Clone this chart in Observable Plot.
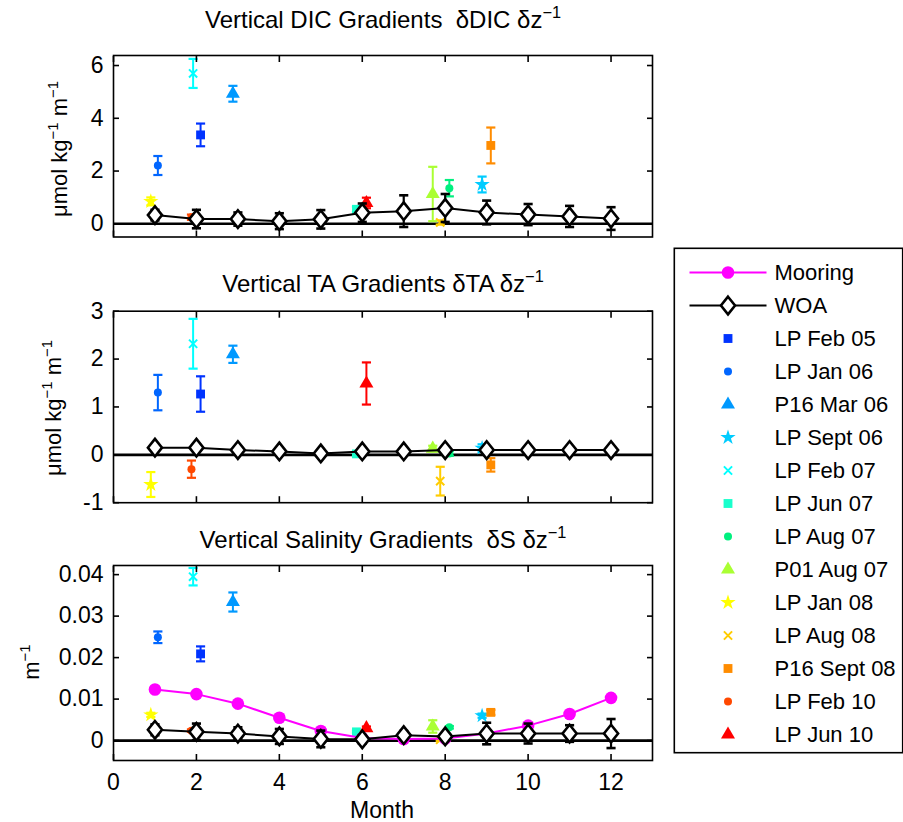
<!DOCTYPE html>
<html><head><meta charset="utf-8">
<script src="https://cdn.jsdelivr.net/npm/d3@7"></script>
<script src="https://cdn.jsdelivr.net/npm/@observablehq/plot@0.6"></script>
<style>
body{margin:0;background:#fff;}
#fig{position:relative;width:903px;height:822px;font-family:"Liberation Sans",Arial,Helvetica,sans-serif;color:#000;overflow:hidden;background:#fff}
.panel{position:absolute;left:0}
.title{position:absolute;font-size:24px;line-height:24px;white-space:nowrap;transform:translateX(-50%)}
.ylab{position:absolute;font-size:22px;line-height:22px;height:22px;width:240px;text-align:center;white-space:nowrap;transform-origin:0 0;transform:rotate(-90deg)}
.xlab{position:absolute;font-size:23px;line-height:23px;white-space:nowrap;transform:translate(-50%,-50%)}
sup{font-size:0.68em;line-height:0;vertical-align:0.62em}
</style></head>
<body><div id="fig"></div>
<script>
// ---------- data ----------
const months = [1,2,3,4,5,6,7,8,9,10,11,12];
const xTicks = [0,2,4,6,8,10,12];
const dicTicks = [0,2,4,6];
const taTicks = [-1,0,1,2,3];
const salTicks = [0,0.01,0.02,0.03,0.04];

const woaDIC    = [0.33,0.18,0.18,0.10,0.17,0.42,0.48,0.60,0.43,0.35,0.28,0.20];
const woaDICerr = [0.20,0.35,0.25,0.30,0.35,0.35,0.60,0.53,0.45,0.40,0.40,0.43];
const woaTA     = [0.15,0.15,0.10,0.07,0.03,0.07,0.07,0.10,0.10,0.10,0.10,0.10];
const woaTAerr  = [0.05,0.05,0.05,0.05,0.05,0.05,0.05,0.05,0.05,0.05,0.05,0.05];
const woaSal    = [0.0026,0.0021,0.0017,0.0010,0.0004,0.0003,0.0013,0.0010,0.0017,0.0017,0.0017,0.0017];
const woaSalerr = [0.0013,0.0020,0.0015,0.0018,0.0020,0.0010,0.0010,0.0008,0.0026,0.0024,0.0020,0.0035];
const mooringSal = [0.0123,0.0112,0.0089,0.0055,0.0023,0.0006,0.0004,0.0005,0.0017,0.0036,0.0064,0.0103];

const cruiseNames   = ["LP Feb 05","LP Jan 06","P16 Mar 06","LP Sept 06","LP Feb 07","LP Jun 07","LP Aug 07","P01 Aug 07","LP Jan 08","LP Aug 08","P16 Sept 08","LP Feb 10","LP Jun 10"];
const cruiseColors  = ["#0033ff","#0066ff","#0099ff","#00ccff","#00ffff","#19ffcc","#00f07f","#aaff33","#ffff00","#ffcc00","#ff8c00","#ff4800","#ff0000"];
const cruiseSymbols = ["square","circle","triangle","star","times","square","circle","triangle","star","times","square","circle","triangle"];
const cruiseMonth   = [2.10,1.07,2.88,8.89,1.92,5.86,8.10,7.70,0.90,7.88,9.10,1.88,6.10];
const cruiseDIC     = [3.37,2.21,4.93,1.49,5.70,0.55,1.35,1.13,0.85,0.05,2.97,0.25,0.79];
const cruiseDICerr  = [0.43,0.36,0.30,0.30,0.55,0.10,0.31,1.03,0.15,0.08,0.68,0.10,0.20];
const cruiseTA      = [1.27,1.30,2.10,0.14,2.32,0.02,0.03,0.13,-0.62,-0.55,-0.21,-0.30,1.49];
const cruiseTAerr   = [0.37,0.37,0.18,0.08,0.52,0.05,0.05,0.06,0.26,0.30,0.14,0.18,0.44];
const cruiseSal     = [0.0209,0.0249,0.0334,0.0060,0.0395,0.0021,0.0032,0.0034,0.0062,0.0002,0.0068,0.0024,0.0030];
const cruiseSalerr  = [0.0018,0.0014,0.0023,0.0005,0.0021,0.0003,0.0003,0.0015,0.0005,0.0003,0.0006,0.0003,0.0004];

// ---------- styling ----------
const FONT = '"Liberation Sans",Arial,Helvetica,sans-serif';
const symR = {square:5, circle:4, triangle:5.2, star:4.8, times:3.8};
const diamond = {draw(ctx, size){ const s = Math.sqrt(size/Math.PI); const h = s, w = s*0.8;
  ctx.moveTo(0,-h); ctx.lineTo(w,0); ctx.lineTo(0,h); ctx.lineTo(-w,0); ctx.closePath(); }};
const CAP = 0.11;

function dotMarks(rows, opt) {
  return rows.map(d => d.sym === "times"
    ? Plot.dot([d], {x: opt.x, y: opt.y, symbol: "times", stroke: d.color, strokeWidth: 2, r: symR.times})
    : Plot.dot([d], {x: opt.x, y: opt.y, symbol: d.sym, fill: d.color, stroke: "none", r: symR[d.sym]}));
}

function panel({top, height, mTop, mBottom, domain, ticks, woa, woaErr, vals, errs, mooring, xLabels}) {
  const cruise = cruiseNames.map((n,i) => ({name:n, color:cruiseColors[i], sym:cruiseSymbols[i], m:cruiseMonth[i], v:vals[i], e:errs[i]}));
  const w = months.map((m,i) => ({m, v:woa[i], e:woaErr[i]}));
  const marks = [
    Plot.ruleY([0], {stroke:"black", strokeWidth:2.6}),
    Plot.ruleX(cruise, {x:"m", y1:d=>d.v-d.e, y2:d=>d.v+d.e, stroke:"color", strokeWidth:2}),
    Plot.link(cruise, {x1:d=>d.m-CAP, x2:d=>d.m+CAP, y1:d=>d.v+d.e, y2:d=>d.v+d.e, stroke:"color", strokeWidth:2.2}),
    Plot.link(cruise, {x1:d=>d.m-CAP, x2:d=>d.m+CAP, y1:d=>d.v-d.e, y2:d=>d.v-d.e, stroke:"color", strokeWidth:2.2}),
    ...dotMarks(cruise, {x:"m", y:"v"})
  ];
  if (mooring) {
    const mo = months.map((m,i) => ({m, v:mooring[i]}));
    marks.push(Plot.line(mo, {x:"m", y:"v", stroke:"#ff00ff", strokeWidth:2}));
    marks.push(Plot.dot(mo, {x:"m", y:"v", fill:"#ff00ff", r:6.3}));
  }
  marks.push(
    Plot.ruleX(w, {x:"m", y1:d=>d.v-d.e, y2:d=>d.v+d.e, stroke:"black", strokeWidth:2.2}),
    Plot.link(w, {x1:d=>d.m-CAP, x2:d=>d.m+CAP, y1:d=>d.v+d.e, y2:d=>d.v+d.e, stroke:"black", strokeWidth:2.6}),
    Plot.link(w, {x1:d=>d.m-CAP, x2:d=>d.m+CAP, y1:d=>d.v-d.e, y2:d=>d.v-d.e, stroke:"black", strokeWidth:2.6}),
    Plot.line(w, {x:"m", y:"v", stroke:"black", strokeWidth:2}),
    Plot.dot(w, {x:"m", y:"v", symbol: diamond, r:8.8, fill:"white", stroke:"black", strokeWidth:2.6}),
    Plot.frame({stroke:"black", strokeWidth:1.6}),
    Plot.axisX(xTicks, {anchor:"bottom", tickSize:-6, tickPadding:19, strokeWidth:1.6, label:null, fontSize:23,
      tickFormat: xLabels ? (d => String(d)) : (() => "")}),
    Plot.axisX(xTicks, {anchor:"top", tickSize:-6, strokeWidth:1.6, label:null, tickFormat:() => ""}),
    Plot.axisY(ticks, {anchor:"left", tickSize:-6, tickPadding:16, strokeWidth:1.6, label:null, fontSize:23, tickFormat: d => String(d)}),
    Plot.axisY(ticks, {anchor:"right", tickSize:-6, strokeWidth:1.6, label:null, tickFormat:() => ""})
  );
  const svg = Plot.plot({
    width:660, height, marginLeft:113, marginRight:8, marginTop:mTop, marginBottom:mBottom,
    x:{domain:[0,13]}, y:{domain}, color:{type:"identity"},
    style:{fontFamily:FONT, color:"black", background:"transparent", overflow:"visible"},
    marks
  });
  svg.classList.add("panel");
  svg.style.top = top + "px";
  return svg;
}

const fig = document.getElementById("fig");
fig.append(panel({top:0, height:250, mTop:55, mBottom:13.5, domain:[-0.5,6.38], ticks:dicTicks,
  woa:woaDIC, woaErr:woaDICerr, vals:cruiseDIC, errs:cruiseDICerr}));
fig.append(panel({top:250, height:260, mTop:60.7, mBottom:7.8, domain:[-1,3], ticks:taTicks,
  woa:woaTA, woaErr:woaTAerr, vals:cruiseTA, errs:cruiseTAerr}));
fig.append(panel({top:510, height:312, mTop:55, mBottom:62, domain:[-0.0048,0.0422], ticks:salTicks,
  woa:woaSal, woaErr:woaSalerr, vals:cruiseSal, errs:cruiseSalerr, mooring:mooringSal, xLabels:true}));

// ---------- legend ----------
const legendNames = ["Mooring","WOA",...cruiseNames];
const lg = cruiseNames.map((n,i) => ({name:n, color:cruiseColors[i], sym:cruiseSymbols[i], m:0.5}));
const legend = Plot.plot({
  width:230, height:506, margin:0,
  x:{domain:[0,1], range:[16,93], axis:null},
  y:{type:"point", domain:legendNames, range:[22,490], padding:0, axis:null},
  color:{type:"identity"},
  style:{fontFamily:FONT, color:"black", background:"white", overflow:"visible"},
  marks:[
    Plot.link(["Mooring"], {x1:()=>0, x2:()=>1, y1:d=>d, y2:d=>d, stroke:"#ff00ff", strokeWidth:2}),
    Plot.dot(["Mooring"], {x:()=>0.5, y:d=>d, fill:"#ff00ff", r:6.3}),
    Plot.link(["WOA"], {x1:()=>0, x2:()=>1, y1:d=>d, y2:d=>d, stroke:"black", strokeWidth:2}),
    Plot.dot(["WOA"], {x:()=>0.5, y:d=>d, symbol:diamond, r:8.8, fill:"white", stroke:"black", strokeWidth:2.6}),
    ...dotMarks(lg, {x:"m", y:"name"}),
    Plot.text(legendNames, {x:()=>1.104, y:d=>d, text:d=>d, textAnchor:"start", fontSize:22}),
    Plot.frame({stroke:"black", strokeWidth:1.6, inset:0.8})
  ]
});
legend.style.position = "absolute"; legend.style.left = "673px"; legend.style.top = "247px";
fig.append(legend);

// ---------- text ----------
function addHTML(cls, html, x, y) {
  const d = document.createElement("div"); d.className = cls; d.innerHTML = html;
  d.style.left = x + "px"; d.style.top = y + "px"; fig.append(d); return d;
}
addHTML("title", "Vertical DIC Gradients&nbsp; δDIC δz<sup>−1</sup>", 383, 8);
addHTML("title", "Vertical TA Gradients δTA δz<sup>−1</sup>", 383, 272);
addHTML("title", "Vertical Salinity Gradients&nbsp; δS δz<sup>−1</sup>", 383, 528);
// rotated labels: box left edge = ascender side, box extends upward from top; centred vertically by +120
addHTML("ylab", "μmol kg<sup>−1</sup> m<sup>−1</sup>", 49, 149 + 120);
addHTML("ylab", "μmol kg<sup>−1</sup> m<sup>−1</sup>", 43, 408 + 120);
addHTML("ylab", "m<sup>−1</sup>", 21, 662 + 120);
addHTML("xlab", "Month", 382, 810);
</script></body></html>
